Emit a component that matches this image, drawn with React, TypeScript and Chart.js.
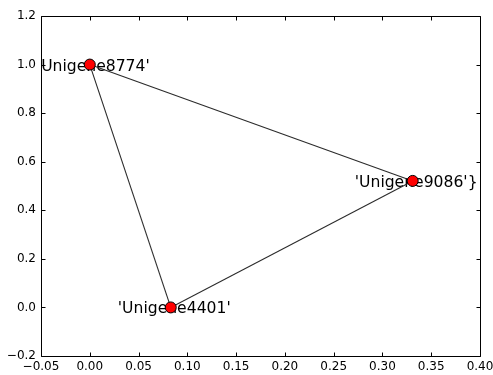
import React, { useEffect, useRef } from "react";
import { Chart, registerables } from "chart.js";

Chart.register(...registerables);

const nodeNames = ["'Unigene8774'", "'Unigene4401'", "'Unigene9086'}"];
const nodeX = [0.0, 0.083, 0.331];
const nodeY = [1.0, 0.0, 0.521];
const edgeFrom = [0, 0, 1];
const edgeTo = [1, 2, 2];

const X_MIN = -0.05, X_MAX = 0.4, X_STEP = 0.05;
const Y_MIN = -0.2, Y_MAX = 1.2, Y_STEP = 0.2;

const FONT = "'DejaVu Sans', sans-serif";

function fmt(v: number, d: number) {
  const s = Math.abs(v).toFixed(d);
  return (v < -1e-9 ? "\u2212" : "") + s;
}

const framePlugin = {
  id: "frame",
  beforeDatasetsDraw(chart: any) {
    const { ctx, chartArea: a } = chart;
    ctx.save();
    ctx.beginPath();
    ctx.rect(a.left, a.top, a.right - a.left, a.bottom - a.top);
    ctx.clip();
    ctx.fillStyle = "#000";
    ctx.font = `15.6px ${FONT}`;
    ctx.textAlign = "center";
    ctx.textBaseline = "alphabetic";
    const xs = chart.scales.x, ys = chart.scales.y;
    nodeNames.forEach((n, i) => {
      ctx.fillText(n, xs.getPixelForValue(nodeX[i]) + 3.5, ys.getPixelForValue(nodeY[i]) + 6);
    });
    ctx.restore();
  },
  afterDraw(chart: any) {
    const { ctx, chartArea: a } = chart;
    const xs = chart.scales.x, ys = chart.scales.y;
    ctx.save();
    ctx.strokeStyle = "#000";
    ctx.lineWidth = 1;
    const L = Math.round(a.left) + 0.5, R = Math.round(a.right) + 0.5;
    const T = Math.round(a.top) + 0.5, B = Math.round(a.bottom) + 0.5;
    ctx.beginPath();
    ctx.rect(L, T, R - L, B - T);
    ctx.stroke();
    ctx.beginPath();
    xs.ticks.forEach((t: any) => {
      const px = Math.round(xs.getPixelForValue(t.value)) + 0.5;
      ctx.moveTo(px, B); ctx.lineTo(px, B - 4);
      ctx.moveTo(px, T); ctx.lineTo(px, T + 4);
    });
    ys.ticks.forEach((t: any) => {
      const py = Math.round(ys.getPixelForValue(t.value)) + 0.5;
      ctx.moveTo(L, py); ctx.lineTo(L + 4, py);
      ctx.moveTo(R, py); ctx.lineTo(R - 4, py);
    });
    ctx.stroke();
    ctx.restore();
  },
};

export default function App() {
  const ref = useRef<HTMLCanvasElement | null>(null);
  useEffect(() => {
    document.body.style.margin = "0";
    const edgeSets = edgeFrom.map((f, k) => ({
      type: "line" as const,
      data: [
        { x: nodeX[f], y: nodeY[f] },
        { x: nodeX[edgeTo[k]], y: nodeY[edgeTo[k]] },
      ],
      borderColor: "#2b2b2b",
      borderWidth: 1.1,
      pointRadius: 0,
      showLine: true,
      fill: false,
      order: 2,
    }));
    const chart = new Chart(ref.current!, {
      type: "scatter",
      data: {
        datasets: [
          ...edgeSets,
          {
            type: "scatter" as const,
            data: nodeX.map((x, i) => ({ x, y: nodeY[i] })),
            backgroundColor: "#ff0000",
            borderColor: "#000000",
            borderWidth: 1,
            pointRadius: 5.5,
            order: 1,
          },
        ] as any,
      },
      options: {
        animation: false,
        responsive: false,
        events: [],
        layout: { padding: { left: 0, top: 16, right: 13, bottom: 0 } },
        plugins: { legend: { display: false }, tooltip: { enabled: false } },
        scales: {
          x: {
            type: "linear",
            min: X_MIN,
            max: X_MAX,
            grid: { display: false, drawTicks: false },
            border: { display: false },
            ticks: {
              stepSize: X_STEP,
              padding: 4,
              color: "#000",
              font: { family: FONT, size: 12 },
              maxRotation: 0,
              autoSkip: false,
              callback: (v: any) => fmt(Number(v), 2),
            },
            afterFit: (s: any) => {
              s.height = 19;
              s.paddingLeft = 0;
              s.paddingRight = 0;
            },
          },
          y: {
            type: "linear",
            min: Y_MIN,
            max: Y_MAX,
            grid: { display: false, drawTicks: false },
            border: { display: false },
            ticks: {
              stepSize: Y_STEP,
              padding: 5,
              color: "#000",
              font: { family: FONT, size: 12 },
              autoSkip: false,
              callback: (v: any) => fmt(Number(v), 1),
            },
            afterFit: (s: any) => {
              s.width = 41;
              s.paddingTop = 0;
              s.paddingBottom = 0;
            },
          },
        },
      },
      plugins: [framePlugin],
    });
    return () => chart.destroy();
  }, []);
  return <canvas ref={ref} width={493} height={375} style={{ display: "block" }} />;
}
